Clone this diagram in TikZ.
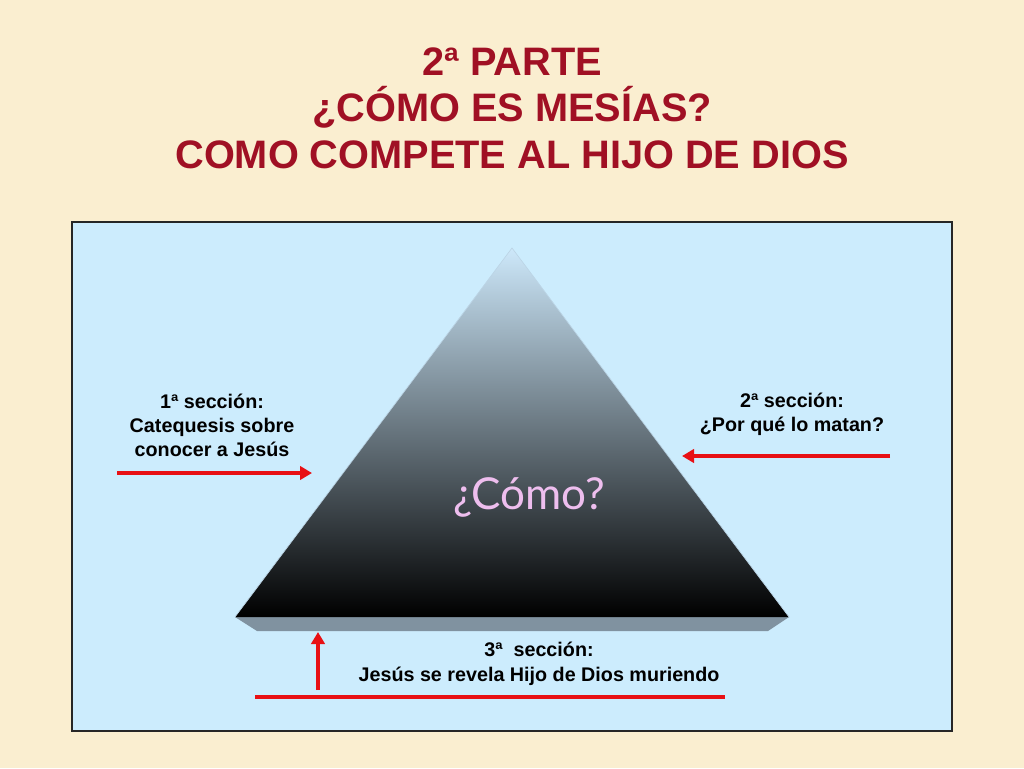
\documentclass[tikz,border=0pt]{standalone}
\usepackage{fontspec}
\setmainfont{Liberation Sans}
\newfontfamily\comofont{Lato}
\usetikzlibrary{arrows.meta, positioning}
\definecolor{parchment}{RGB}{250,238,208}
\definecolor{skyfill}{RGB}{204,236,253}
\definecolor{titlered}{RGB}{160,16,36}
\definecolor{arrowred}{RGB}{232,16,20}
\definecolor{slabgray}{RGB}{128,146,160}
\definecolor{pyrtop}{RGB}{205,232,250}
\definecolor{pyrmid}{RGB}{118,136,150}
\definecolor{comopink}{RGB}{238,190,238}

\begin{document}
\begin{tikzpicture}[x=0.75pt, y=-0.75pt,
    label/.style={font=\fontsize{14.8}{18}\selectfont\bfseries, align=center, text=black},
    redline/.style={arrowred, line width=3pt},
    redarrow/.style={redline, -{Triangle[length=9pt, width=10pt]}}]
    % Background
    \fill[parchment] (0,0) rectangle (1024,768);
    \useasboundingbox (0,0) rectangle (1024,768);

    % Title
    \node[font=\fontsize{29.8}{34.8}\selectfont\bfseries, text=titlered, align=center] (title) at (512,108)
        {2ª PARTE\\¿CÓMO ES MESÍAS?\\COMO COMPETE AL HIJO DE DIOS};

    % Panel
    \draw[skyfill, fill=skyfill] (72,222) rectangle (952,731);
    \draw[black!85, line width=0.9pt] (72,222) rectangle (952,731);

    % Pyramid and base slab
    \fill[slabgray] (235,617) -- (789,617) -- (768,631) -- (257,631) -- cycle;
    \shade[top color=pyrtop, middle color=pyrmid, bottom color=black]
        (512,248) -- (789,617) -- (235,617) -- cycle;
    \draw[pyrtop!80!pyrmid, line width=0.5pt] (235,617) -- (512,248) -- (789,617);
    \node[font=\comofont\fontsize{33}{38}\selectfont, text=comopink] (como) at (529,497) {¿Cómo?};

    % Section labels
    \node[label] (sec1) at (212,425) {1ª sección:\\Catequesis sobre\\conocer a Jesús};
    \node[label] (sec2) at (792,414) {2ª sección:\\¿Por qué lo matan?};
    \node[label, font=\fontsize{14.8}{18.75}\selectfont\bfseries] (sec3) at (539,664)
        {3ª\ \ sección:\\Jesús se revela Hijo de Dios muriendo};

    % Arrows
    \coordinate (a1s) at (117,473);
    \coordinate (a1e) at (312,473);
    \coordinate (a2s) at (890,456);
    \coordinate (a2e) at (682,456);
    \coordinate (a3s) at (318,690);
    \coordinate (a3e) at (318,632);
    \coordinate (l3s) at (255,697);
    \coordinate (l3e) at (725,697);
    \draw[redarrow] (a1s) -- (a1e);
    \draw[redarrow] (a2s) -- (a2e);
    \draw[redarrow] (a3s) -- (a3e);
    \draw[redline] (l3s) -- (l3e);
\end{tikzpicture}
\end{document}
